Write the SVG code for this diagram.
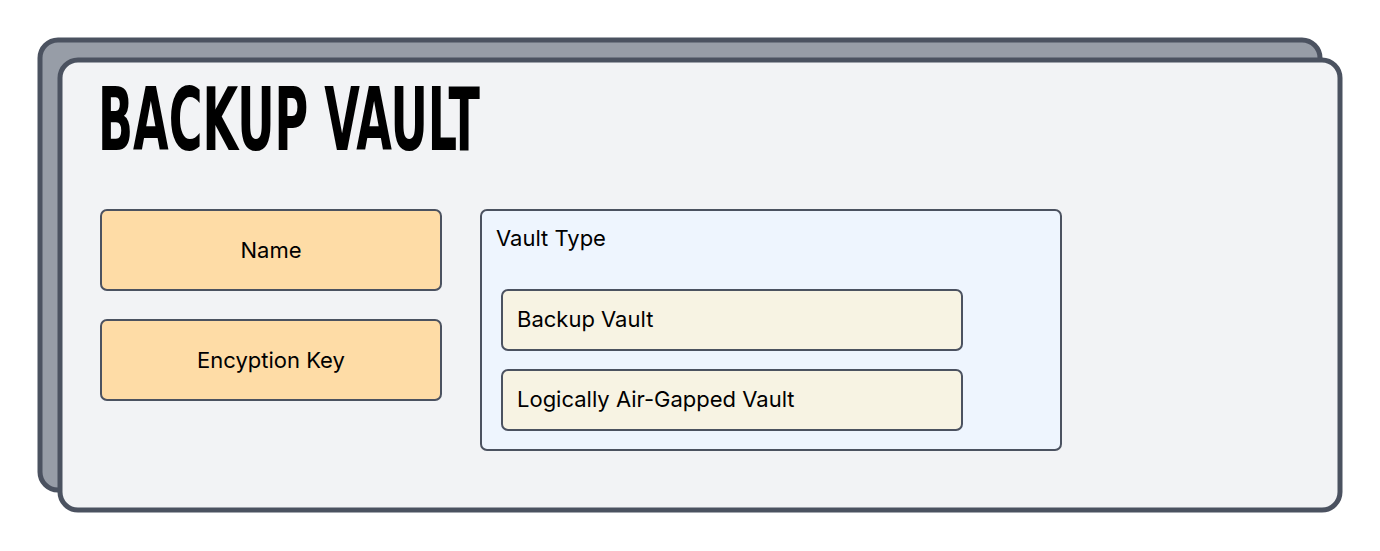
<svg xmlns="http://www.w3.org/2000/svg" width="1380" height="551" viewBox="0 0 1380 551">
<style>
.lbl{font-family:Inter,"Noto Sans","Liberation Sans",sans-serif;font-size:22px;fill:#000}
.attr{fill:#fedca6;stroke:#4b5260;stroke-width:2}
.opt{fill:#f7f3e3;stroke:#4b5260;stroke-width:2}
</style>
<rect width="1380" height="551" fill="#ffffff"/>
<g id="vault">
<rect x="40" y="40" width="1280" height="450" rx="18" fill="#979da7" stroke="#4b5260" stroke-width="5"/>
<rect x="60" y="60" width="1280" height="450" rx="18" fill="#f2f3f5" stroke="#4b5260" stroke-width="5"/>
<text x="98" y="150" font-family="'Liberation Sans Narrow','DejaVu Sans Condensed','Liberation Sans',sans-serif" font-weight="bold" font-size="87" textLength="382" lengthAdjust="spacingAndGlyphs" fill="#000">BACKUP VAULT</text>
</g>
<g id="name">
<rect class="attr" x="101" y="210" width="340" height="80" rx="6"/>
<text class="lbl" x="271" y="258" text-anchor="middle">Name</text>
</g>
<g id="encryption-key">
<rect class="attr" x="101" y="320" width="340" height="80" rx="6"/>
<text class="lbl" x="271" y="368" text-anchor="middle">Encyption Key</text>
</g>
<g id="vault-type">
<rect x="481" y="210" width="580" height="240" rx="6" fill="#eef5fe" stroke="#4b5260" stroke-width="2"/>
<text class="lbl" x="496" y="246">Vault Type</text>
</g>
<g id="backup-vault">
<rect class="opt" x="502" y="290" width="460" height="60" rx="6"/>
<text class="lbl" x="517" y="327">Backup Vault</text>
</g>
<g id="air-gapped-vault">
<rect class="opt" x="502" y="370" width="460" height="60" rx="6"/>
<text class="lbl" x="517" y="407">Logically Air-Gapped Vault</text>
</g>
<g id="connectors"></g>
</svg>
